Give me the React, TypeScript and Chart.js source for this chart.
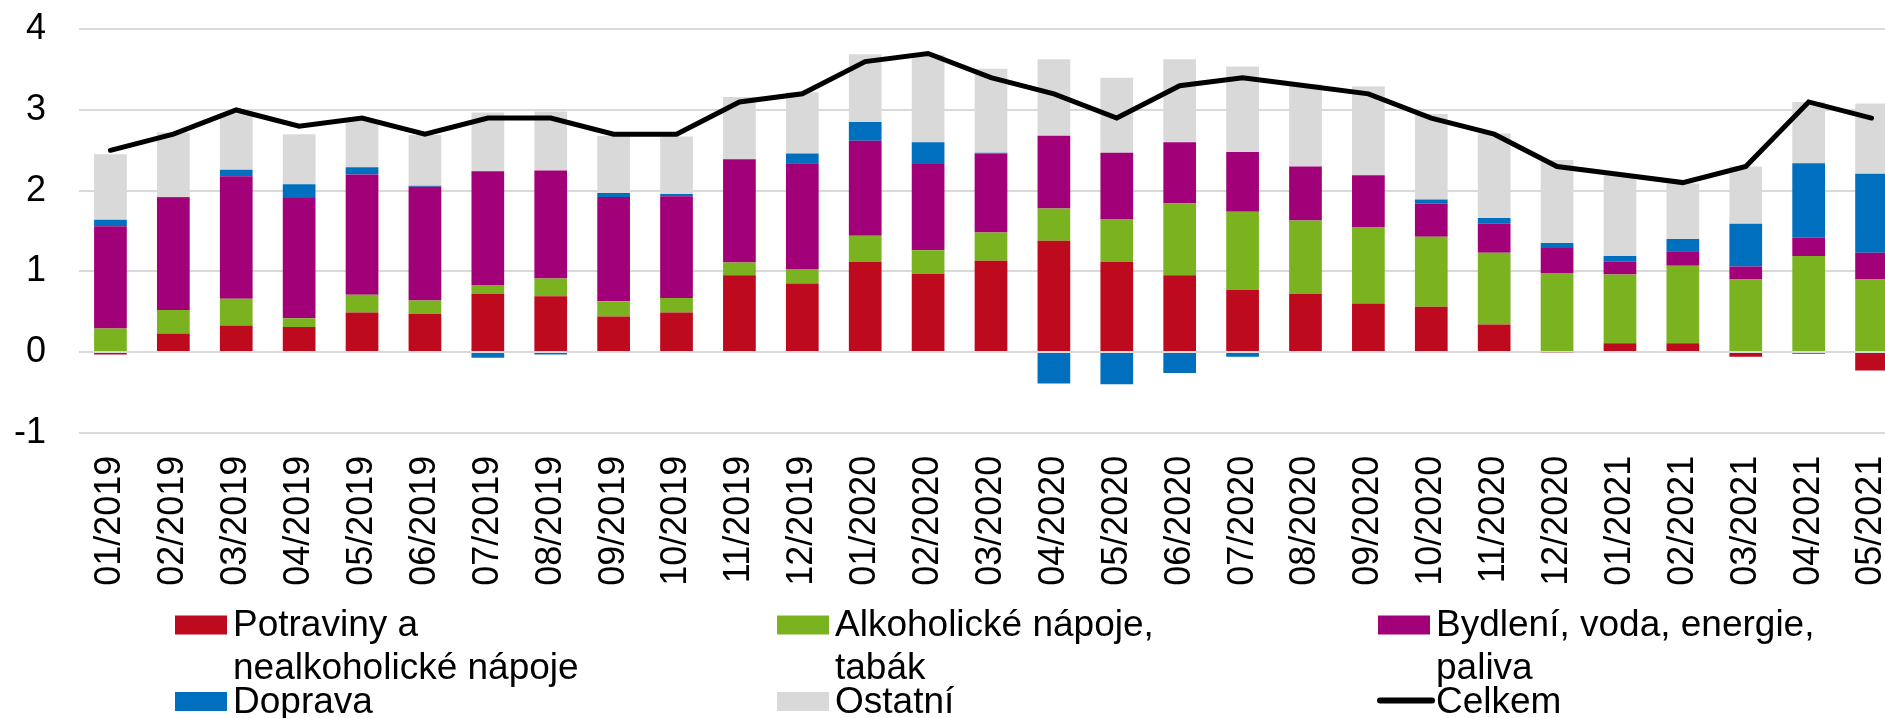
import React, { useEffect, useRef } from "react";
import { Chart, registerables } from "chart.js";

Chart.register(...registerables);

const months = [
  "01/2019", "02/2019", "03/2019", "04/2019", "05/2019", "06/2019", "07/2019", "08/2019", "09/2019", "10/2019",
  "11/2019", "12/2019", "01/2020", "02/2020", "03/2020", "04/2020", "05/2020", "06/2020", "07/2020", "08/2020",
  "09/2020", "10/2020", "11/2020", "12/2020", "01/2021", "02/2021", "03/2021", "04/2021", "05/2021",
];

const potraviny = [-0.03, 0.23, 0.33, 0.31, 0.49, 0.47, 0.72, 0.69, 0.44, 0.49, 0.95, 0.85, 1.12, 0.97, 1.13, 1.38, 1.12, 0.95, 0.77, 0.72, 0.6, 0.56, 0.34, -0.01, 0.11, 0.11, -0.06, -0.02, -0.23];
const alkohol = [0.29, 0.29, 0.33, 0.11, 0.22, 0.17, 0.11, 0.22, 0.19, 0.18, 0.16, 0.18, 0.32, 0.29, 0.35, 0.4, 0.53, 0.89, 0.97, 0.91, 0.95, 0.87, 0.89, 0.98, 0.85, 0.96, 0.9, 1.19, 0.9];
const bydleni = [1.27, 1.39, 1.52, 1.49, 1.49, 1.41, 1.41, 1.34, 1.29, 1.26, 1.28, 1.31, 1.18, 1.07, 0.98, 0.9, 0.82, 0.76, 0.74, 0.67, 0.64, 0.41, 0.36, 0.31, 0.16, 0.18, 0.16, 0.23, 0.33];
const doprava = [0.08, 0.01, 0.08, 0.17, 0.09, 0.01, -0.07, -0.03, 0.05, 0.03, 0, 0.12, 0.23, 0.27, 0.01, -0.39, -0.4, -0.26, -0.06, 0, 0, 0.05, 0.07, 0.06, 0.07, 0.15, 0.53, 0.92, 0.98];
const ostatni = [0.81, 0.8, 0.7, 0.62, 0.59, 0.63, 0.73, 0.73, 0.71, 0.71, 0.77, 0.76, 0.84, 1.08, 1.04, 0.95, 0.93, 1.03, 1.06, 1.02, 1.1, 1.06, 1.05, 1.03, 1.0, 0.69, 0.71, 0.76, 0.87];
const celkem = [2.5, 2.7, 3.0, 2.8, 2.9, 2.7, 2.9, 2.9, 2.7, 2.7, 3.1, 3.2, 3.6, 3.7, 3.4, 3.2, 2.9, 3.3, 3.4, 3.3, 3.2, 2.9, 2.7, 2.3, 2.2, 2.1, 2.3, 3.1, 2.9];

const seriesNames = [
  "Potraviny a nealkoholické nápoje",
  "Alkoholické nápoje, tabák",
  "Bydlení, voda, energie, paliva",
  "Doprava",
  "Ostatní",
  "Celkem",
];
const seriesColors = ["#BE0A1E", "#7AB31F", "#A10078", "#0070BE", "#D9D9D9", "#000000"];

const FONT = "'Liberation Sans', Arial, sans-serif";

const legendPlugin = {
  id: "customLegend",
  afterDraw(chart: any) {
    const ctx = chart.ctx;
    ctx.save();
    ctx.font = `37px ${FONT}`;
    ctx.textBaseline = "alphabetic";
    ctx.textAlign = "left";
    const colX = [175, 777, 1378];
    const rowCenter = [625, 701.5];
    const maxW = 395;
    const lineH = 42.6;
    chart.data.datasets.forEach((ds: any, i: number) => {
      const col = i % 3;
      const row = Math.floor(i / 3);
      const x = colX[col];
      const cy = rowCenter[row];
      if (ds.type === "line") {
        ctx.strokeStyle = ds.borderColor;
        ctx.lineWidth = 6;
        ctx.lineCap = "round";
        ctx.beginPath();
        ctx.moveTo(x + 2, cy - 1);
        ctx.lineTo(x + 54, cy - 1);
        ctx.stroke();
      } else {
        ctx.fillStyle = ds.backgroundColor;
        ctx.fillRect(x, cy - 9.5, 52, 19);
      }
      const words = String(ds.label).split(" ");
      const lines: string[] = [];
      let cur = "";
      words.forEach((w) => {
        const t = cur ? cur + " " + w : w;
        if (cur && ctx.measureText(t).width > maxW) {
          lines.push(cur);
          cur = w;
        } else cur = t;
      });
      if (cur) lines.push(cur);
      ctx.fillStyle = "#000";
      lines.forEach((ln, k) => {
        ctx.fillText(ln, x + 58, cy + 11 + k * lineH);
      });
    });
    ctx.restore();
  },
};

export default function App() {
  const ref = useRef<HTMLCanvasElement | null>(null);

  useEffect(() => {
    if (!ref.current) return;
    const barData = [potraviny, alkohol, bydleni, doprava, ostatni];
    const datasets: any[] = barData.map((d, i) => ({
      type: "bar",
      label: seriesNames[i],
      data: d,
      backgroundColor: seriesColors[i],
      borderWidth: 0,
      stack: "bars",
      order: 1,
      barPercentage: 0.52,
      categoryPercentage: 1,
    }));
    datasets.push({
      type: "line",
      label: seriesNames[5],
      data: celkem,
      borderColor: seriesColors[5],
      backgroundColor: seriesColors[5],
      borderWidth: 5,
      pointRadius: 0,
      tension: 0,
      stack: "line",
      order: 0,
      borderCapStyle: "round",
      borderJoinStyle: "miter",
    });

    const chart = new Chart(ref.current, {
      type: "bar",
      data: { labels: months, datasets },
      options: {
        animation: false,
        responsive: false,
        devicePixelRatio: 1,
        layout: { padding: { left: 0, right: 2, top: 29.3, bottom: 0 } },
        plugins: { legend: { display: false }, tooltip: { enabled: false } },
        scales: {
          x: {
            stacked: true,
            grid: { display: false, drawTicks: false },
            border: { display: false },
            ticks: {
              minRotation: 90,
              maxRotation: 90,
              autoSkip: false,
              padding: 23,
              color: "#000",
              font: { family: FONT, size: 36 },
            },
            afterFit: (scale: any) => {
              scale.height = 718 - 432.7;
              scale.paddingLeft = 0;
              scale.paddingRight = 0;
            },
          },
          y: {
            stacked: true,
            min: -1,
            max: 4,
            grid: { color: "#D9D9D9", lineWidth: 2, drawTicks: false },
            border: { display: false },
            ticks: {
              stepSize: 1,
              padding: 33,
              color: "#000",
              font: { family: FONT, size: 36 },
            },
            afterFit: (scale: any) => {
              scale.width = 79;
              scale.paddingTop = 0;
              scale.paddingBottom = 0;
            },
          },
        },
      },
      plugins: [legendPlugin],
    });
    return () => chart.destroy();
  }, []);

  return (
    <div
      style={{
        position: "fixed",
        left: 0,
        top: 0,
        width: 1885,
        height: 718,
        overflow: "hidden",
        background: "#fff",
      }}
    >
      <canvas ref={ref} width={1905} height={718} style={{ width: 1905, height: 718, display: "block" }} />
    </div>
  );
}
